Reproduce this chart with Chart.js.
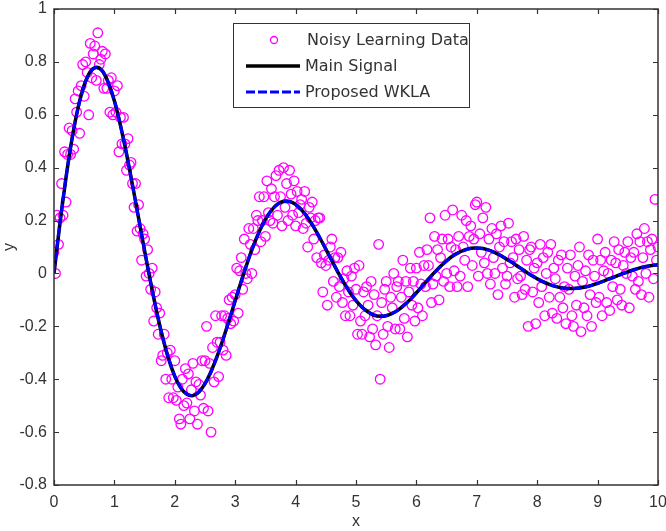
<!DOCTYPE html>
<html>
<head>
<meta charset="utf-8">
<script src="https://cdn.jsdelivr.net/npm/chart.js@4"></script>
<style>
  body { margin: 0; background: #fff; }
  canvas { display: block; }
</style>
</head>
<body>
<canvas id="waveChart" width="666" height="531"></canvas>
<script>
// tick values of both axes
var xTicks = [0, 1, 2, 3, 4, 5, 6, 7, 8, 9, 10];
var yTicks = [-0.8, -0.6, -0.4, -0.2, 0, 0.2, 0.4, 0.6, 0.8, 1];

var seriesNames = ["Noisy Learning Data", "Main Signal", "Proposed WKLA"];

// noisy learning data
var noisyX = [
  0,0.025,0.05,0.075,0.1,0.125,0.15,0.175,0.2,0.225,0.25,0.275,0.3,0.325,0.35,0.375,0.4,0.425,0.45,0.475,0.5,0.525,0.55,0.575,0.6,0.625,0.65,0.675,0.7,0.725,0.75,0.775,0.8,0.825,0.85,0.875,0.9,0.925,0.95,0.975,
  1,1.025,1.05,1.075,1.1,1.125,1.15,1.175,1.2,1.225,1.25,1.275,1.3,1.325,1.35,1.375,1.4,1.425,1.45,1.475,1.5,1.525,1.55,1.575,1.6,1.625,1.65,1.675,1.7,1.725,1.75,1.775,1.8,1.825,1.85,1.875,1.9,1.925,1.95,1.975,
  2,2.025,2.05,2.075,2.1,2.125,2.15,2.175,2.2,2.225,2.25,2.275,2.3,2.325,2.35,2.375,2.4,2.425,2.45,2.475,2.5,2.525,2.55,2.575,2.6,2.625,2.65,2.675,2.7,2.725,2.75,2.775,2.8,2.825,2.85,2.875,2.9,2.925,2.95,2.975,
  3,3.025,3.05,3.075,3.1,3.125,3.15,3.175,3.2,3.225,3.25,3.275,3.3,3.325,3.35,3.375,3.4,3.425,3.45,3.475,3.5,3.525,3.55,3.575,3.6,3.625,3.65,3.675,3.7,3.725,3.75,3.775,3.8,3.825,3.85,3.875,3.9,3.925,3.95,3.975,
  4,4.025,4.05,4.075,4.1,4.125,4.15,4.175,4.2,4.225,4.25,4.275,4.3,4.325,4.35,4.375,4.4,4.425,4.45,4.475,4.5,4.525,4.55,4.575,4.6,4.625,4.65,4.675,4.7,4.725,4.75,4.775,4.8,4.825,4.85,4.875,4.9,4.925,4.95,4.975,
  5,5.025,5.05,5.075,5.1,5.125,5.15,5.175,5.2,5.225,5.25,5.275,5.3,5.325,5.35,5.375,5.4,5.425,5.45,5.475,5.5,5.525,5.55,5.575,5.6,5.625,5.65,5.675,5.7,5.725,5.75,5.775,5.8,5.825,5.85,5.875,5.9,5.925,5.95,5.975,
  6,6.025,6.05,6.075,6.1,6.125,6.15,6.175,6.2,6.225,6.25,6.275,6.3,6.325,6.35,6.375,6.4,6.425,6.45,6.475,6.5,6.525,6.55,6.575,6.6,6.625,6.65,6.675,6.7,6.725,6.75,6.775,6.8,6.825,6.85,6.875,6.9,6.925,6.95,6.975,
  7,7.025,7.05,7.075,7.1,7.125,7.15,7.175,7.2,7.225,7.25,7.275,7.3,7.325,7.35,7.375,7.4,7.425,7.45,7.475,7.5,7.525,7.55,7.575,7.6,7.625,7.65,7.675,7.7,7.725,7.75,7.775,7.8,7.825,7.85,7.875,7.9,7.925,7.95,7.975,
  8,8.025,8.05,8.075,8.1,8.125,8.15,8.175,8.2,8.225,8.25,8.275,8.3,8.325,8.35,8.375,8.4,8.425,8.45,8.475,8.5,8.525,8.55,8.575,8.6,8.625,8.65,8.675,8.7,8.725,8.75,8.775,8.8,8.825,8.85,8.875,8.9,8.925,8.95,8.975,
  9,9.025,9.05,9.075,9.1,9.125,9.15,9.175,9.2,9.225,9.25,9.275,9.3,9.325,9.35,9.375,9.4,9.425,9.45,9.475,9.5,9.525,9.55,9.575,9.6,9.625,9.65,9.675,9.7,9.725,9.75,9.775,9.8,9.825,9.85,9.875,9.9,9.925,9.95,9.975,
  10
];
var noisyY = [
  0.08,0.00,0.22,0.11, 0.21,0.34,0.22,0.46, 0.27,0.45,0.55,0.45, 0.54,0.47,0.66,0.61, 0.69,0.53,0.71,0.79,
  0.67,0.80,0.76,0.60, 0.87,0.74,0.83,0.86, 0.73,0.91,0.79,0.81, 0.84,0.70,0.83,0.70, 0.73,0.61,0.74,0.60,
  0.69,0.61,0.71,0.46, 0.59,0.49,0.59,0.49, 0.39,0.51,0.41,0.42, 0.34,0.25,0.34,0.16, 0.26,0.17,0.05,0.15,
  0.13,-0.01,0.09,0.00, -0.06,0.02,-0.18,-0.07, -0.13,-0.23,-0.15,-0.33, -0.31,-0.23,-0.40,-0.30, -0.47,-0.29,-0.40,-0.47,
  -0.33,-0.48,-0.43,-0.55, -0.57,-0.40,-0.50,-0.36, -0.49,-0.38,-0.55,-0.44, -0.34,-0.52,-0.41,-0.57, -0.42,-0.46,-0.33,-0.51,
  -0.33,-0.20,-0.52,-0.34, -0.60,-0.28,-0.41,-0.16, -0.26,-0.39,-0.26,-0.16, -0.29,-0.16,-0.31,-0.17, -0.10,-0.19,-0.09,-0.18,
  -0.08,0.02,-0.15,0.01, 0.06,-0.06,0.13,0.00, -0.02,0.17,0.11,0.00, 0.17,0.09,0.22,0.20, 0.29,0.12,0.20,0.29,
  0.14,0.35,0.23,0.20, 0.32,0.19,0.29,0.37, 0.22,0.39,0.29,0.18, 0.40,0.25,0.34,0.20, 0.39,0.30,0.22,0.35,
  0.18,0.31,0.23,0.26, 0.28,0.17,0.31,0.19, 0.10,0.25,0.21,0.27, 0.13,0.20,0.06,0.21, 0.21,0.04,-0.07,0.07,
  0.03,-0.12,0.05,0.10, 0.13,-0.03,0.06,-0.09, 0.06,-0.05,0.08,-0.11, -0.02,-0.16,0.01,-0.07, -0.16,-0.01,-0.12,0.02,
  -0.06,-0.23,0.03,-0.18, -0.23,-0.07,-0.16,-0.05, -0.12,-0.24,-0.03,-0.21, -0.08,-0.27,-0.16,0.11, -0.40,-0.11,-0.23,-0.06,
  -0.03,-0.20,-0.28,-0.09, -0.13,0.00,-0.21,-0.05, -0.03,-0.21,-0.09,0.05, -0.17,-0.03,-0.24,-0.07, 0.02,-0.12,-0.03,-0.18,
  0.02,-0.13,0.08,-0.04, -0.16,0.03,-0.05,0.09, 0.03,0.21,-0.11,-0.04, 0.14,-0.01,0.09,-0.10, 0.06,0.13,-0.03,0.22,
  0.00,0.13,-0.05,0.10, 0.24,0.01,0.09,-0.05, 0.14,-0.01,0.22,0.10, 0.05,0.20,-0.05,0.14, 0.18,0.03,0.13,0.26,
  0.27,-0.01,0.15,0.08, 0.21,0.04,0.25,0.00, 0.13,-0.04,0.17,0.06, 0.00,0.15,-0.08,0.10, 0.18,0.02,0.12,-0.04,
  -0.01,0.19,0.04,0.12, 0.06,-0.09,0.13,-0.02, 0.09,-0.01,-0.08,0.14, -0.06,0.05,-0.20,0.09, 0.10,-0.07,0.02,-0.19,
  0.04,-0.11,0.11,-0.05, 0.06,-0.16,0.00,0.08, -0.09,0.11,-0.15,0.02, -0.02,-0.17,0.05,-0.09, 0.07,-0.13,-0.05,-0.19,
  0.02,-0.06,0.07,-0.16, -0.20,-0.01,-0.12,0.03, 0.10,-0.22,-0.03,-0.13, 0.01,-0.16,0.07,-0.08, -0.20,0.05,-0.01,-0.11,
  0.13,-0.09,0.05,-0.16, 0.01,0.08,-0.11,0.00, -0.14,0.05,-0.05,0.12, 0.04,-0.10,0.09,-0.06, -0.12,0.03,0.08,0.00,
  0.12,-0.13,0.06,-0.01, 0.08,-0.06,0.15,-0.03, 0.12,-0.08,0.06,0.17, 0.00,0.12,-0.09,0.09, 0.13,-0.02,0.28,0.05,
  0.10
];

// main signal and the WKLA estimate, sampled every 0.1
var signalX = [
  0,0.1,0.2,0.3,0.4,0.5,0.6,0.7,0.8,0.9,
  1,1.1,1.2,1.3,1.4,1.5,1.6,1.7,1.8,1.9,
  2,2.1,2.2,2.3,2.4,2.5,2.6,2.7,2.8,2.9,
  3,3.1,3.2,3.3,3.4,3.5,3.6,3.7,3.8,3.9,
  4,4.1,4.2,4.3,4.4,4.5,4.6,4.7,4.8,4.9,
  5,5.1,5.2,5.3,5.4,5.5,5.6,5.7,5.8,5.9,
  6,6.1,6.2,6.3,6.4,6.5,6.6,6.7,6.8,6.9,
  7,7.1,7.2,7.3,7.4,7.5,7.6,7.7,7.8,7.9,
  8,8.1,8.2,8.3,8.4,8.5,8.6,8.7,8.8,8.9,
  9,9.1,9.2,9.3,9.4,9.5,9.6,9.7,9.8,9.9,
  10
];
var signalY = [
  0, 0.192, 0.364, 0.511, 0.628, 0.712, 0.763, 0.780, 0.766, 0.721,
  0.652, 0.560, 0.453, 0.334, 0.210, 0.086, -0.034, -0.145, -0.243, -0.325,
  -0.389, -0.433, -0.457, -0.462, -0.448, -0.417, -0.371, -0.314, -0.248, -0.177,
  -0.103, -0.030, 0.040, 0.104, 0.159, 0.205, 0.239, 0.262, 0.273, 0.272,
  0.261, 0.240, 0.211, 0.175, 0.135, 0.092, 0.048, 0.005, -0.035, -0.072,
  -0.103, -0.128, -0.146, -0.158, -0.162, -0.160, -0.151, -0.138, -0.119, -0.098,
  -0.073, -0.047, -0.021, 0.004, 0.027, 0.048, 0.066, 0.079, 0.089, 0.095,
  0.096, 0.094, 0.088, 0.079, 0.067, 0.053, 0.039, 0.023, 0.008, -0.007,
  -0.020, -0.032, -0.041, -0.049, -0.054, -0.057, -0.057, -0.055, -0.051, -0.045,
  -0.037, -0.029, -0.020, -0.011, -0.002, 0.006, 0.014, 0.021, 0.026, 0.030,
  0.033
];
var wklaY = [
  0.004, 0.195, 0.366, 0.512, 0.627, 0.710, 0.761, 0.779, 0.766, 0.722,
  0.654, 0.561, 0.453, 0.333, 0.209, 0.086, -0.033, -0.143, -0.241, -0.323,
  -0.388, -0.432, -0.456, -0.461, -0.448, -0.418, -0.372, -0.315, -0.249, -0.177,
  -0.102, -0.029, 0.041, 0.104, 0.158, 0.204, 0.238, 0.261, 0.272, 0.272,
  0.261, 0.241, 0.212, 0.176, 0.136, 0.093, 0.049, 0.006, -0.034, -0.071,
  -0.102, -0.127, -0.145, -0.157, -0.161, -0.159, -0.151, -0.138, -0.120, -0.099,
  -0.074, -0.048, -0.022, 0.003, 0.026, 0.047, 0.065, 0.078, 0.088, 0.094,
  0.096, 0.094, 0.088, 0.079, 0.068, 0.054, 0.040, 0.024, 0.009, -0.006,
  -0.019, -0.031, -0.041, -0.048, -0.054, -0.056, -0.057, -0.055, -0.051, -0.045,
  -0.038, -0.030, -0.021, -0.012, -0.003, 0.005, 0.013, 0.020, 0.026, 0.030,
  0.033
];

function toPoints(xs, ys) {
  var pts = [];
  for (var i = 0; i < xs.length; i++) pts.push({ x: xs[i], y: ys[i] });
  return pts;
}

var axisColor = "#333";
var textColor = "#333";

// matlab style frame with inward ticks on all four sides
var framePlugin = {
  id: "frame",
  afterDatasetsDraw: function(chart) {
    var ctx = chart.ctx, a = chart.chartArea;
    var xs = chart.scales.x, ys = chart.scales.y;
    var len = 5;
    ctx.save();
    ctx.strokeStyle = axisColor;
    ctx.lineWidth = 1.5;
    ctx.strokeRect(a.left, a.top, a.right - a.left, a.bottom - a.top);
    ctx.lineWidth = 1.2;
    ctx.beginPath();
    xTicks.forEach(function(v) {
      var px = Math.round(xs.getPixelForValue(v)) + 0.5;
      ctx.moveTo(px, a.bottom); ctx.lineTo(px, a.bottom - len);
      ctx.moveTo(px, a.top); ctx.lineTo(px, a.top + len);
    });
    yTicks.forEach(function(v) {
      var py = Math.round(ys.getPixelForValue(v)) + 0.5;
      ctx.moveTo(a.left, py); ctx.lineTo(a.left + len, py);
      ctx.moveTo(a.right, py); ctx.lineTo(a.right - len, py);
    });
    ctx.stroke();
    ctx.restore();
  }
};

// boxed legend sitting inside the axes
var boxLegend = {
  id: "boxLegend",
  afterDraw: function(chart) {
    var ctx = chart.ctx;
    var ds = chart.data.datasets;
    var bx = 233.5, by = 23.5, bw = 236, bh = 84;
    var rows = [40, 66, 92];
    ctx.save();
    ctx.fillStyle = "#fff";
    ctx.fillRect(bx, by, bw, bh);
    ctx.strokeStyle = axisColor;
    ctx.lineWidth = 1;
    ctx.strokeRect(bx, by, bw, bh);

    // marker sample
    ctx.strokeStyle = ds[0].borderColor;
    ctx.lineWidth = 1.3;
    ctx.beginPath();
    ctx.arc(274, rows[0], 3.5, 0, Math.PI * 2);
    ctx.stroke();

    // line samples
    for (var i = 1; i < 3; i++) {
      ctx.strokeStyle = ds[i].borderColor;
      ctx.lineWidth = ds[i].borderWidth;
      ctx.setLineDash(ds[i].borderDash || []);
      ctx.beginPath();
      ctx.moveTo(246, rows[i]);
      ctx.lineTo(300, rows[i]);
      ctx.stroke();
    }
    ctx.setLineDash([]);

    ctx.fillStyle = textColor;
    ctx.font = '16px "DejaVu Sans"';
    ctx.textBaseline = "middle";
    ctx.textAlign = "left";
    ctx.fillText(seriesNames[0], 307, rows[0] + 1);
    ctx.fillText(seriesNames[1], 305, rows[1] + 1);
    ctx.fillText(seriesNames[2], 305, rows[2] + 1);
    ctx.restore();
  }
};

Chart.defaults.font.family = '"Liberation Sans", Arial, sans-serif';
Chart.defaults.font.size = 16;
Chart.defaults.color = textColor;

new Chart(document.getElementById("waveChart"), {
  type: "scatter",
  data: {
    datasets: [{
      label: seriesNames[0],
      data: toPoints(noisyX, noisyY),
      pointStyle: "circle",
      pointRadius: 4.8,
      borderColor: "#ff00ff",
      backgroundColor: "rgba(0,0,0,0)",
      pointBorderWidth: 1.3,
      order: 3
    }, {
      label: seriesNames[1],
      data: toPoints(signalX, signalY),
      showLine: true,
      borderColor: "#000",
      borderWidth: 3.5,
      pointRadius: 0,
      tension: 0.3,
      order: 2
    }, {
      label: seriesNames[2],
      data: toPoints(signalX, wklaY),
      showLine: true,
      borderColor: "#0000ff",
      borderWidth: 3,
      borderDash: [9, 3],
      pointRadius: 0,
      tension: 0.3,
      order: 1
    }]
  },
  options: {
    responsive: false,
    animation: false,
    devicePixelRatio: 1,
    events: [],
    layout: { padding: 0 },
    plugins: {
      legend: { display: false },
      tooltip: { enabled: false }
    },
    scales: {
      x: {
        type: "linear",
        min: 0,
        max: 10,
        grid: { display: false, drawTicks: false },
        border: { display: false },
        afterBuildTicks: function(s) { s.ticks = xTicks.map(function(v) { return { value: v }; }); },
        ticks: { padding: 8, callback: function(v) { return String(v); } },
        title: { display: true, text: "x", padding: { top: 0, bottom: 0 } },
        afterFit: function(s) {
          s.height = 46;
          s.paddingLeft = 0;
          s.paddingRight = 8;
        }
      },
      y: {
        type: "linear",
        min: -0.8,
        max: 1,
        grid: { display: false, drawTicks: false },
        border: { display: false },
        afterBuildTicks: function(s) { s.ticks = yTicks.map(function(v) { return { value: v }; }); },
        ticks: { padding: 7, callback: function(v) { return String(v); } },
        title: { display: true, text: "y", padding: { top: 0, bottom: 0 } },
        afterFit: function(s) {
          s.width = 54;
          s.paddingTop = 9;
          s.paddingBottom = 0;
        }
      }
    }
  },
  plugins: [framePlugin, boxLegend]
});
</script>
</body>
</html>
